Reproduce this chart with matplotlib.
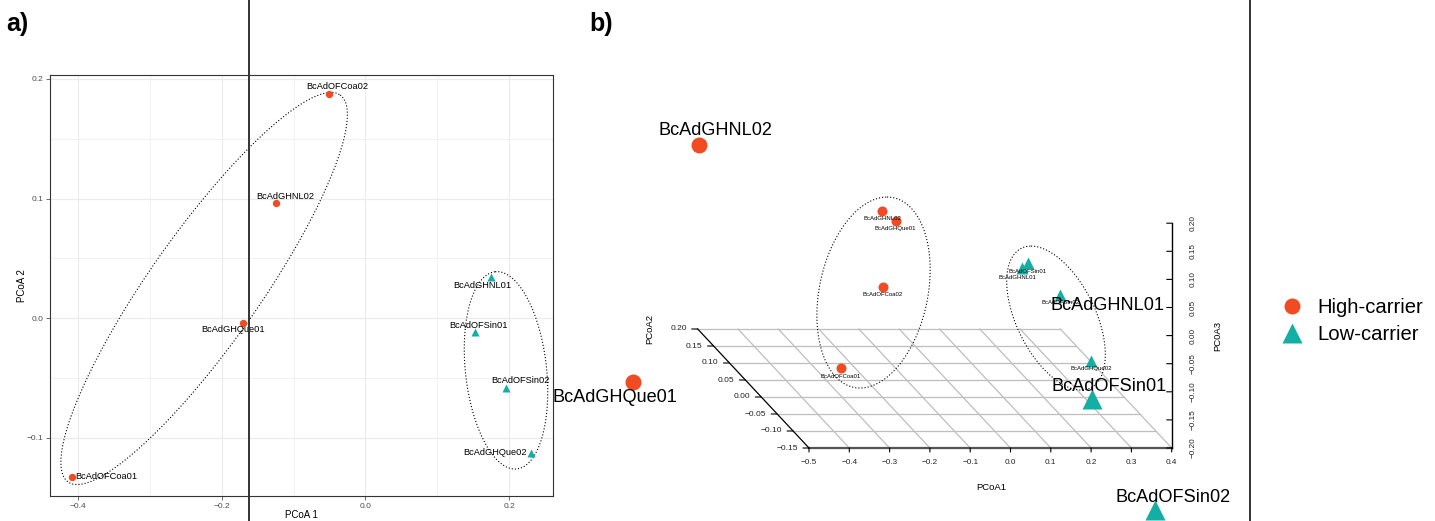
import numpy as np
import matplotlib
matplotlib.use("Agg")
import matplotlib.pyplot as plt
from matplotlib.lines import Line2D
from matplotlib.ticker import FuncFormatter

plt.rcParams['font.family'] = ['Liberation Sans', 'DejaVu Sans']

# ---------------------- DADOS ----------------------
amostras = ["BcAdOFCoa02", "BcAdGHNL02", "BcAdGHQue01", "BcAdOFCoa01",
            "BcAdGHNL01", "BcAdOFSin01", "BcAdOFSin02", "BcAdGHQue02"]
grupos = ["High-carrier"] * 4 + ["Low-carrier"] * 4
pcoa1 = [-0.0505, -0.124, -0.170, -0.408, 0.175, 0.152, 0.196, 0.230]
pcoa2 = [0.1877, 0.0964, -0.0039, -0.1326, 0.0345, -0.0112, -0.058, -0.1123]
pcoa3 = [-0.118, 0.073, 0.115, -0.068, 0.009, 0.045, 0.017, -0.068]

# elipses (centro + dois semi-eixos conjugados)
elip_a_centro = [(-0.2245, 0.0249), (0.1956, -0.0435)]
elip_a_eixo1 = [(0.1893, 0.1617), (-0.0151, 0.0824)]
elip_a_eixo2 = [(0.0626, -0.0264), (0.0561, 0.0038)]
# painel b: em coordenadas projetadas (PCoA1 + k*PCoA2, PCoA3 + k*PCoA2)
elip_b_centro = [(-0.2215, -0.0141), (0.2313, -0.0595)]
elip_b_eixo1 = [(0.0335, 0.1699), (-0.0620, 0.1281)]
elip_b_eixo2 = [(0.1365, 0.0), (0.1055, 0.0)]

ticks_b_x = [-0.5, -0.4, -0.3, -0.2, -0.1, 0.0, 0.1, 0.2, 0.3, 0.4]
ticks_b_y = [-0.15, -0.10, -0.05, 0.00, 0.05, 0.10, 0.15, 0.20]
ticks_b_z = [-0.20, -0.15, -0.10, -0.05, 0.00, 0.05, 0.10, 0.15, 0.20]

# deslocamento dos rótulos (pixels)
desl_a = [(8, 7), (9, 6), (-10, -7), (34, 0), (-9, -8), (4, 6), (14, 7), (-36, 0)]
desl_grande = [(16, 14), (17, 14), (-18, -15), (68, 0), (-17, -14), (17, 13), (18, 13), (-72, 0)]
mostra_grande = [True, True, True, True, False, True, True, True]
desl_3d = [(0, -7), (0, -8), (0, -7), (0, -9), (-5, -10), (0, -8), (0, -8), (0, -8)]

CORES = {"High-carrier": "#F04B23", "Low-carrier": "#13AFA4"}
MARCA = {"High-carrier": "o", "Low-carrier": "^"}

W, H = 1435, 521
fig = plt.figure(figsize=(W / 100, H / 100), dpi=100)


def menos(v, fmt):
    return (fmt % v).replace("-", "\u2212")


def elipse(ax, c, e1, e2):
    t = np.linspace(0, 2 * np.pi, 300)
    xs = c[0] + np.cos(t) * e1[0] + np.sin(t) * e2[0]
    ys = c[1] + np.cos(t) * e1[1] + np.sin(t) * e2[1]
    ax.plot(xs, ys, color="black", lw=0.8, dashes=(1, 1.8), zorder=2)


# ---------------------- PAINEL a ----------------------
ax = fig.add_axes([50 / W, 1 - 496 / H, 503 / W, 421 / H])
ax.set_xlim(-0.439, 0.261)
ax.set_ylim(-0.1485, 0.2033)
ax.set_xticks([-0.4, -0.2, 0.0, 0.2])
ax.set_xticks([-0.3, -0.1, 0.1], minor=True)
ax.set_yticks([-0.1, 0.0, 0.1, 0.2])
ax.set_yticks([-0.05, 0.05, 0.15], minor=True)
ax.xaxis.set_major_formatter(FuncFormatter(lambda v, p: menos(v, "%.1f")))
ax.yaxis.set_major_formatter(FuncFormatter(lambda v, p: menos(v, "%.1f")))
ax.grid(which="major", color="#EBEBEB", lw=0.8)
ax.grid(which="minor", color="#EBEBEB", lw=0.45)
ax.set_axisbelow(True)
ax.tick_params(which="major", length=2.8, width=0.5, color="#333333",
               labelsize=6, labelcolor="#4D4D4D", pad=2)
ax.tick_params(which="minor", length=0)
for s in ax.spines.values():
    s.set_color("#333333")
    s.set_linewidth(0.8)
ax.set_xlabel("PCoA 1", fontsize=7, labelpad=0.2)
ax.set_ylabel("PCoA 2", fontsize=7, labelpad=0)

for c, e1, e2 in zip(elip_a_centro, elip_a_eixo1, elip_a_eixo2):
    elipse(ax, c, e1, e2)
for i, nome in enumerate(amostras):
    g = grupos[i]
    ax.plot(pcoa1[i], pcoa2[i], MARCA[g], color=CORES[g],
            ms=5.3 if g == "High-carrier" else 6.2, mec="none", zorder=3)
    ax.annotate(nome, (pcoa1[i], pcoa2[i]), xytext=desl_a[i],
                textcoords="offset pixels", ha="center", va="center",
                fontsize=6.7, zorder=4)

# ---------------------- PAINEL b (projeção 3D) ----------------------
PX_X, PX_Z = 403.0, 562.0          # pixels por unidade de PCoA1 / PCoA3
KX, KY = -318.0 / PX_X, 340.0 / PX_Z  # efeito de PCoA2 (profundidade)
ORIGEM = (809, 448)                 # pixel do canto (-0.5, -0.15, -0.2)


def proj(x, y, z):
    x, y, z = np.asarray(x), np.asarray(y), np.asarray(z)
    return x + y * KX, z + y * KY


axb = fig.add_axes([0, 0, 1, 1])
X0, Y0 = proj(-0.5, -0.15, -0.2)
axb.set_xlim(X0 - ORIGEM[0] / PX_X, X0 + (W - ORIGEM[0]) / PX_X)
axb.set_ylim(Y0 - (H - ORIGEM[1]) / PX_Z, Y0 + ORIGEM[1] / PX_Z)
axb.set_axis_off()

xmin, xmax = ticks_b_x[0], ticks_b_x[-1]
ymin, ymax = ticks_b_y[0], ticks_b_y[-1]
zmin, zmax = ticks_b_z[0], ticks_b_z[-1]
grade = "#BEBEBE"
for yv in ticks_b_y:
    px, py = proj([xmin, xmax], [yv, yv], [zmin, zmin])
    axb.plot(px, py, color=grade, lw=0.9, zorder=1)
for xv in ticks_b_x[1:]:
    px, py = proj([xv, xv], [ymin, ymax], [zmin, zmin])
    axb.plot(px, py, color=grade, lw=0.9, zorder=1)

# eixo x (frente)
px, py = proj([xmin, xmax], [ymin, ymin], [zmin, zmin])
axb.plot(px, py, color="#555555", lw=1.6, zorder=2)
for xv in ticks_b_x:
    px, py = proj(xv, ymin, zmin)
    axb.annotate("", (px, py), xytext=(0, -4), textcoords="offset pixels",
                 arrowprops=dict(arrowstyle="-", color="black", lw=0.8,
                                 shrinkA=0, shrinkB=0))
    axb.annotate(menos(xv, "%.1f"), (px, py), xytext=(0, -15),
                 textcoords="offset pixels", ha="center", va="center",
                 fontsize=5.9, color="#222222")
px, py = proj((xmin + xmax) / 2, ymin, zmin)
axb.annotate("PCoA1", (px, py), xytext=(1, -39), textcoords="offset pixels",
             ha="center", va="center", fontsize=6.8)

# eixo y (profundidade)
px, py = proj([xmin, xmin], [ymin, ymax], [zmin, zmin])
axb.plot(px, py, color="black", lw=0.9, zorder=2)
for yv in ticks_b_y:
    px, py = proj(xmin, yv, zmin)
    axb.annotate("", (px, py), xytext=(-6, 0), textcoords="offset pixels",
                 arrowprops=dict(arrowstyle="-", color="black", lw=0.8,
                                 shrinkA=0, shrinkB=0))
    axb.annotate(menos(yv, "%.2f"), (px, py), xytext=(-11, 0),
                 textcoords="offset pixels", ha="right", va="center",
                 fontsize=6, color="#222222")
px, py = proj(xmin, ymax, zmin)
axb.annotate("PCoA2", (px, py), xytext=(-48, 0), textcoords="offset pixels",
             ha="center", va="center", fontsize=6.8, rotation=90)

# eixo z (vertical, à direita)
px, py = proj([xmax, xmax], [ymin, ymin], [zmin, zmax])
axb.plot(px, py, color="black", lw=1.0, zorder=2)
for zv in ticks_b_z:
    px, py = proj(xmax, ymin, zv)
    axb.annotate("", (px, py), xytext=(-5, 0), textcoords="offset pixels",
                 arrowprops=dict(arrowstyle="-", color="black", lw=0.8,
                                 shrinkA=0, shrinkB=0))
    axb.annotate(menos(zv, "%.2f"), (px, py), xytext=(21, 0),
                 textcoords="offset pixels", ha="center", va="center",
                 fontsize=5.9, color="#222222", rotation=90)
px, py = proj(xmax, ymin, (zmin + zmax) / 2)
axb.annotate("PC0A3", (px, py), xytext=(46, 0), textcoords="offset pixels",
             ha="center", va="center", fontsize=6.8, rotation=90)

for c, e1, e2 in zip(elip_b_centro, elip_b_eixo1, elip_b_eixo2):
    elipse(axb, c, e1, e2)

px, py = proj(pcoa1, pcoa2, pcoa3)
for i, nome in enumerate(amostras):
    g = grupos[i]
    axb.plot(px[i], py[i], MARCA[g], color=CORES[g],
             ms=7.2 if g == "High-carrier" else 8.2, mec="none", zorder=3)
    axb.annotate(nome, (px[i], py[i]), xytext=desl_3d[i],
                 textcoords="offset pixels", ha="center", va="center",
                 fontsize=4.3, zorder=4)

# ---------------------- SOBREPOSIÇÃO AMPLIADA ----------------------
axg = fig.add_axes([0, 0, 1, 1])
axg.set_xlim(-0.6140, 0.3926)
axg.set_ylim(-0.0626, 0.1576)
axg.set_axis_off()
for i, nome in enumerate(amostras):
    g = grupos[i]
    if mostra_grande[i]:
        axg.plot(pcoa1[i], pcoa2[i], MARCA[g], color=CORES[g],
                 ms=11.5 if g == "High-carrier" else 14.4, mec="none", zorder=5)
    axg.annotate(nome, (pcoa1[i], pcoa2[i]), xytext=desl_grande[i],
                 textcoords="offset pixels", ha="center", va="center",
                 fontsize=13.1, zorder=6)

# ---------------------- LEGENDA / TÍTULOS / LINHAS ----------------------
handles = [Line2D([], [], ls="none", marker=MARCA[g], color=CORES[g], mec="none",
                  ms=11.5 if g == "High-carrier" else 14.4)
           for g in ["High-carrier", "Low-carrier"]]
fig.legend(handles, ["High-carrier", "Low-carrier"], loc="center left",
           bbox_to_anchor=(1282 / W, 1 - 321 / H), frameon=False,
           fontsize=14.6, handlelength=1.0, handletextpad=0.73,
           borderpad=0, borderaxespad=0, labelspacing=0.38)

fig.text(6 / W, 1 - 24 / H, "a)", fontsize=18, fontweight="bold",
         ha="left", va="center")
fig.text(589 / W, 1 - 24 / H, "b)", fontsize=18, fontweight="bold",
         ha="left", va="center")

for xp in [249, 1250]:
    fig.add_artist(Line2D([xp / W, xp / W], [0, 1], color="#333333", lw=1.4))

fig.savefig("out.png", dpi=100)
